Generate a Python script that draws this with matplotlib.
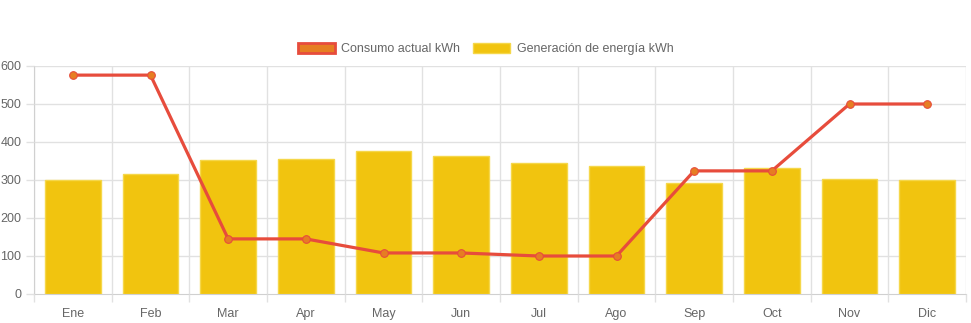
import matplotlib
matplotlib.use("Agg")
import matplotlib.pyplot as plt
from matplotlib.patches import Patch
import numpy as np

months = ["Ene", "Feb", "Mar", "Apr", "May", "Jun", "Jul", "Ago", "Sep", "Oct", "Nov", "Dic"]
consumo = [576, 576, 145, 145, 108, 108, 100, 100, 324, 324, 500, 500]
generacion = [300, 316, 353, 355, 376, 363, 345, 337, 292, 332, 303, 300]
yticks = [0, 100, 200, 300, 400, 500, 600]

plt.rcParams['font.family'] = ['Liberation Sans', 'DejaVu Sans']

W, H = 971, 323
fig = plt.figure(figsize=(W / 100, H / 100), dpi=100)
left, right, top, bottom = 34, 966, 66, 294
ax = fig.add_axes([left / W, 1 - bottom / H, (right - left) / W, (bottom - top) / H])

x = np.arange(len(months))
ax.bar(x, generacion, width=0.72, color="#f1c40f", edgecolor="#f5d74a", linewidth=1, zorder=2)
ax.plot(x, consumo, color="#e74c3c", linewidth=2.3, zorder=3,
        marker="o", markersize=5.5, markerfacecolor="#e67e22", markeredgecolor="#e74c3c", markeredgewidth=0.8)

ax.set_xlim(-0.5, len(months) - 0.5)
ax.set_ylim(0, 600)
ax.set_yticks(yticks)
ax.set_xticks(x)
ax.set_xticklabels(months)
ax.set_xticks(np.arange(len(months) + 1) - 0.5, minor=True)

grid_c = "#e1e1e1"
ax.grid(False)
for v in yticks[1:]:
    ax.axhline(v, color=grid_c, linewidth=1, zorder=0)
for b in np.arange(len(months) + 1) - 0.5:
    ax.axvline(b, color=grid_c, linewidth=1, zorder=0)

for s in ["top", "right"]:
    ax.spines[s].set_visible(False)
ax.spines["left"].set_color("#d0d0d0")
ax.spines["bottom"].set_color("#d0d0d0")
ax.spines["left"].set_zorder(1)
ax.spines["bottom"].set_zorder(1)

ax.tick_params(axis="x", which="major", length=0, pad=10, labelsize=9, labelcolor="#666666")
ax.tick_params(axis="x", which="minor", length=6, color=grid_c, width=1)
ax.tick_params(axis="y", which="major", length=6, color=grid_c, width=1, pad=3, labelsize=9, labelcolor="#666666")

handles = [Patch(facecolor="#e67e22", edgecolor="#e74c3c", linewidth=2),
           Patch(facecolor="#f1c40f", edgecolor="#f5d74a", linewidth=1)]
fig.legend(handles, ["Consumo actual kWh", "Generación de energía kWh"],
           loc="center", bbox_to_anchor=(485.5 / W, 1 - 49 / H), ncol=2, frameon=False,
           fontsize=9, labelcolor="#666666", handlelength=3.0, handleheight=0.9,
           handletextpad=0.5, columnspacing=1.0)

fig.savefig("out.png", dpi=100)
